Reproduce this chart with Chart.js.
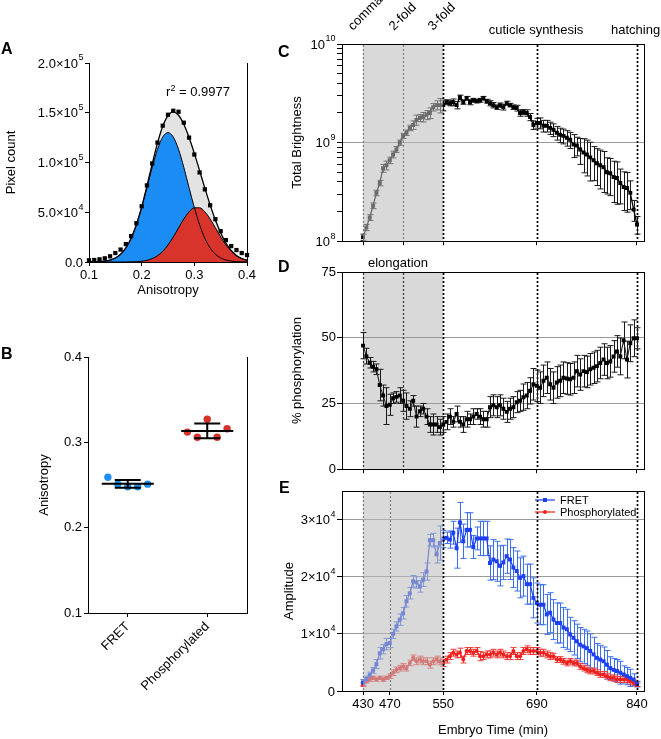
<!DOCTYPE html>
<html>
<head>
<meta charset="utf-8">
<script src="https://cdn.jsdelivr.net/npm/chart.js"></script>
<style>
  body { margin: 0; width: 661px; height: 739px; position: relative; overflow: hidden; background: #fff;
         font-family: 'Liberation Sans', Arial, Helvetica, sans-serif; color: #000; }
  canvas { position: absolute; }
  .lbl { position: absolute; font-size: 13px; line-height: 15px; white-space: nowrap; z-index: 2; }
  .mid { transform: translateX(-50%); }
  .rot { transform: rotate(-45deg); transform-origin: 0 100%; }
  .pan { position: absolute; font-size: 16px; line-height: 16px; font-weight: bold; z-index: 2; }
  sup { font-size: 9px; vertical-align: 5px; line-height: 0; }
</style>
</head>
<body>
<canvas id="chartA" width="260" height="272" style="left:0;top:30px"></canvas>
<canvas id="chartB" width="260" height="399" style="left:0;top:340px"></canvas>
<canvas id="chartC" width="391" height="250" style="left:270px;top:0"></canvas>
<canvas id="chartD" width="391" height="228" style="left:270px;top:250px"></canvas>
<canvas id="chartE" width="391" height="261" style="left:270px;top:478px"></canvas>

<div class="pan" style="left:1px;top:41px">A</div>
<div class="pan" style="left:1px;top:346px">B</div>
<div class="pan" style="left:278px;top:44px">C</div>
<div class="pan" style="left:278px;top:259px">D</div>
<div class="pan" style="left:279px;top:480px">E</div>

<div class="lbl mid" style="left:198px;top:84px">r<sup>2</sup> = 0.9977</div>
<div class="lbl rot" style="left:355px;top:18px">comma</div>
<div class="lbl rot" style="left:396px;top:18px">2-fold</div>
<div class="lbl rot" style="left:435px;top:18px">3-fold</div>
<div class="lbl mid" style="left:536px;top:22px">cuticle synthesis</div>
<div class="lbl" style="left:611px;top:22px">hatching</div>
<div class="lbl mid" style="left:398px;top:255px">elongation</div>

<script>
// ---- Panel A : anisotropy histogram and two-gaussian fit
const anisoBins = [0.10, 0.11, 0.12, 0.13, 0.14, 0.15, 0.16, 0.17, 0.18, 0.19,
                   0.20, 0.21, 0.22, 0.23, 0.24, 0.25, 0.26, 0.27, 0.28, 0.29,
                   0.30, 0.31, 0.32, 0.33, 0.34, 0.35, 0.36, 0.37, 0.38, 0.39, 0.40];
const pixelCounts = [1700, 2000, 2700, 3700, 5700, 9000, 12500, 18000, 26000, 39000,
                     56000, 77000, 99000, 120000, 137000, 148000, 152000, 151000, 140000, 125000,
                     108000, 90000, 73000, 57000, 43000, 31000, 22000, 16000, 12000, 9000, 7000];
const fitTotal = [50, 150, 370, 890, 1970, 4070, 7880, 14240, 23930, 37735,
                  55480, 76400, 98590, 119470, 136400, 147100, 150800, 147500, 138400, 125100,
                  109170, 91870, 74200, 57400, 42170, 29270, 19070, 11690, 6640, 3540, 1750];
const fitFret = [50, 150, 370, 890, 1970, 4070, 7870, 14200, 23800, 37400,
                 54700, 74700, 95200, 113200, 125600, 130000, 125600, 113200, 95200, 74700,
                 54700, 37400, 23800, 14200, 7870, 4070, 1970, 890, 370, 150, 50];
const fitPhos = [0, 0, 0, 0, 0, 0, 10, 40, 130, 335,
                 780, 1700, 3390, 6270, 10800, 17100, 25200, 34300, 43200, 50400,
                 54470, 54470, 50400, 43200, 34300, 25200, 17100, 10800, 6270, 3390, 1700];
const aTicksX = [0.1, 0.2, 0.3, 0.4];
const aTicksY = [0, 50000, 100000, 150000, 200000];
const aLabelsY = ['0.0', '5.0×10^4', '1.0×10^5', '1.5×10^5', '2.0×10^5'];

// ---- Panel B : anisotropy per construct
const bGroups = ['FRET', 'Phosphorylated'];
const bFret = [0.259, 0.251, 0.248, 0.248, 0.251];
const bPhos = [0.312, 0.306, 0.327, 0.306, 0.316];
const bTicksY = [0.1, 0.2, 0.3, 0.4];

// ---- Panels C-E : time course (min)
const times = [430, 435, 440, 445, 450, 455, 460, 465, 470, 475,
               480, 485, 490, 495, 500, 505, 510, 515, 520, 525,
               530, 535, 540, 545, 550, 555, 560, 565, 570, 575,
               580, 585, 590, 595, 600, 605, 610, 615, 620, 625,
               630, 635, 640, 645, 650, 655, 660, 665, 670, 675,
               680, 685, 690, 695, 700, 705, 710, 715, 720, 725,
               730, 735, 740, 745, 750, 755, 760, 765, 770, 775,
               780, 785, 790, 795, 800, 805, 810, 815, 820, 825,
               830, 835, 840];
// total brightness, x1e9
const brightness = [0.110, 0.138, 0.174, 0.229, 0.309, 0.389, 0.550, 0.589, 0.661, 0.759,
                    0.851, 1.00, 1.17, 1.26, 1.41, 1.51, 1.70, 1.78, 1.82, 1.91,
                    2.00, 2.29, 2.40, 2.40, 2.40, 2.57, 2.51, 2.57, 2.40, 2.88,
                    2.57, 2.82, 2.57, 2.69, 2.63, 2.69, 2.82, 2.63, 2.51, 2.40,
                    2.29, 2.40, 2.29, 2.51, 2.40, 2.29, 2.24, 2.00, 2.04, 2.00,
                    1.82, 1.51, 1.58, 1.58, 1.48, 1.48, 1.41, 1.35, 1.26, 1.20,
                    1.17, 1.12, 1.07, 0.955, 0.933, 0.851, 0.794, 0.759, 0.708, 0.661,
                    0.617, 0.589, 0.562, 0.501, 0.490, 0.447, 0.437, 0.389, 0.355, 0.347,
                    0.309, 0.209, 0.148];
const brightnessSd = [0.008, 0.010, 0.012, 0.015, 0.020, 0.025, 0.050, 0.060, 0.050, 0.060,
                      0.060, 0.060, 0.070, 0.080, 0.090, 0.150, 0.200, 0.150, 0.200, 0.200,
                      0.250, 0.200, 0.250, 0.400, 0.300, 0.150, 0.150, 0.200, 0.200, 0.150,
                      0.120, 0.120, 0.150, 0.120, 0.100, 0.120, 0.120, 0.120, 0.150, 0.150,
                      0.120, 0.120, 0.150, 0.120, 0.100, 0.120, 0.150, 0.150, 0.120, 0.150,
                      0.150, 0.150, 0.180, 0.200, 0.200, 0.200, 0.200, 0.200, 0.200, 0.200,
                      0.200, 0.200, 0.200, 0.250, 0.200, 0.250, 0.300, 0.300, 0.300, 0.250,
                      0.250, 0.250, 0.250, 0.200, 0.200, 0.200, 0.200, 0.150, 0.150, 0.150,
                      0.100, 0.050, 0.030];
const phosPercent = [47, 43, 40.5, 39, 38, 32, 28, 24, 24.5, 27,
                     27.5, 28, 26, 24, 23, 26, 20, 22, 23, 20,
                     17, 17, 17, 16, 17, 18, 20, 18, 21, 18,
                     17, 19, 19, 20, 21, 20, 19, 19, 23.6, 24.3,
                     23.6, 24.3, 23, 21.8, 23, 23.6, 25.5, 26, 27.4, 28,
                     29.8, 32.3, 31.7, 31, 33.6, 34.8, 32.3, 31, 33, 33.6,
                     34.8, 34.5, 34.2, 34.8, 37.3, 36, 37.3, 37, 38, 38.6,
                     39.2, 40.4, 41.7, 40.4, 41, 42.9, 44.8, 42.9, 49, 41.7,
                     47.9, 49.8, 49.8];
const phosPercentSd = [5, 3, 2, 2, 2, 6, 4, 7, 4, 2,
                       2, 3, 4, 5, 3, 2, 4, 2, 2, 3,
                       3, 4, 3, 3, 3, 3, 3, 2, 3, 2,
                       3, 3, 2, 3, 2, 3, 3, 3, 4, 4,
                       4, 4, 4, 4, 4, 4, 4, 4, 5, 5,
                       5, 6, 6, 6, 6, 6, 6, 6, 6, 6,
                       6, 6, 6, 6, 6, 6, 6, 6, 6, 6,
                       6, 6, 6, 6, 6, 6, 6, 7, 7, 7,
                       7, 7, 4];
// amplitudes, x1e4
const ampFret = [0.15, 0.21, 0.28, 0.36, 0.47, 0.66, 0.73, 0.82, 0.84, 1.00,
                 1.13, 1.25, 1.36, 1.57, 1.71, 1.92, 1.90, 1.83, 1.95, 2.09,
                 2.64, 2.64, 2.39, 2.59, 2.66, 2.68, 2.65, 2.77, 2.50, 2.95,
                 2.62, 2.82, 2.82, 2.52, 2.67, 2.67, 2.67, 2.67, 2.24, 2.30,
                 2.27, 2.19, 2.25, 2.36, 2.30, 2.16, 2.10, 1.98, 2.01, 1.87,
                 1.87, 1.63, 1.54, 1.51, 1.51, 1.34, 1.37, 1.25, 1.19, 1.19,
                 1.11, 1.08, 0.99, 0.93, 0.87, 0.81, 0.78, 0.75, 0.70, 0.64,
                 0.58, 0.55, 0.52, 0.46, 0.40, 0.37, 0.35, 0.32, 0.29, 0.26,
                 0.23, 0.20, 0.12];
const ampFretSd = [0.05, 0.05, 0.05, 0.05, 0.08, 0.10, 0.08, 0.10, 0.08, 0.08,
                   0.08, 0.10, 0.10, 0.10, 0.10, 0.10, 0.10, 0.10, 0.12, 0.15,
                   0.10, 0.12, 0.15, 0.30, 0.15, 0.10, 0.15, 0.20, 0.35, 0.35,
                   0.30, 0.30, 0.30, 0.20, 0.20, 0.30, 0.30, 0.30, 0.30, 0.35,
                   0.35, 0.35, 0.30, 0.30, 0.35, 0.35, 0.35, 0.35, 0.35, 0.35,
                   0.35, 0.35, 0.35, 0.35, 0.35, 0.35, 0.35, 0.35, 0.35, 0.35,
                   0.35, 0.35, 0.30, 0.30, 0.30, 0.30, 0.30, 0.30, 0.30, 0.30,
                   0.25, 0.25, 0.25, 0.25, 0.20, 0.20, 0.20, 0.20, 0.15, 0.15,
                   0.15, 0.10, 0.05];
const ampPhos = [0.11, 0.17, 0.20, 0.23, 0.20, 0.23, 0.20, 0.23, 0.26, 0.32,
                 0.37, 0.40, 0.43, 0.40, 0.49, 0.58, 0.52, 0.55, 0.52, 0.52,
                 0.46, 0.52, 0.55, 0.52, 0.49, 0.55, 0.61, 0.67, 0.64, 0.67,
                 0.55, 0.70, 0.70, 0.67, 0.70, 0.61, 0.61, 0.64, 0.64, 0.67,
                 0.64, 0.67, 0.64, 0.61, 0.61, 0.70, 0.61, 0.61, 0.70, 0.73,
                 0.70, 0.70, 0.70, 0.67, 0.67, 0.64, 0.61, 0.61, 0.55, 0.55,
                 0.52, 0.49, 0.52, 0.49, 0.49, 0.43, 0.40, 0.37, 0.35, 0.35,
                 0.32, 0.29, 0.29, 0.26, 0.23, 0.23, 0.20, 0.20, 0.20, 0.20,
                 0.17, 0.14, 0.11];
const ampPhosSd = [0.03, 0.03, 0.03, 0.03, 0.03, 0.03, 0.03, 0.03, 0.04, 0.05,
                   0.05, 0.05, 0.05, 0.05, 0.05, 0.05, 0.06, 0.06, 0.06, 0.06,
                   0.06, 0.06, 0.06, 0.06, 0.06, 0.06, 0.06, 0.06, 0.06, 0.08,
                   0.06, 0.06, 0.06, 0.06, 0.06, 0.08, 0.06, 0.06, 0.06, 0.06,
                   0.06, 0.06, 0.06, 0.06, 0.06, 0.06, 0.06, 0.06, 0.06, 0.06,
                   0.06, 0.06, 0.06, 0.06, 0.06, 0.06, 0.06, 0.05, 0.05, 0.05,
                   0.05, 0.05, 0.05, 0.05, 0.05, 0.05, 0.05, 0.05, 0.05, 0.05,
                   0.05, 0.05, 0.05, 0.05, 0.05, 0.05, 0.05, 0.05, 0.05, 0.05,
                   0.05, 0.05, 0.03];
const stageLines = [430, 490, 550, 690, 840];
const ampLines = [430, 470, 550, 690, 840];
const shadeRange = [430, 550];
const cTicksY = [1e8, 1e9, 1e10];
const cLabelsY = ['10^8', '10^9', '10^10'];
const dTicksY = [0, 25, 50, 75];
const eTicksY = [0, 10000, 20000, 30000];
const eLabelsY = ['0', '1×10^4', '2×10^4', '3×10^4'];

// ---- defaults
const fontFamily = "'Liberation Sans', Arial, Helvetica, sans-serif";
Chart.defaults.font.family = fontFamily;
Chart.defaults.font.size = 13;
Chart.defaults.color = '#000';
Chart.defaults.animation = false;
Chart.defaults.responsive = false;
Chart.defaults.devicePixelRatio = 1;
Chart.defaults.events = [];
Chart.defaults.plugins.legend.display = false;
Chart.defaults.plugins.tooltip.enabled = false;

const fretBlue = '#1c3ff2';
const phosRed = '#ee1f1c';

// ---- helpers
const toPoints = (xs, ys, k = 1) => xs.map((x, i) => ({x: x, y: ys[i] * k}));
const useTicks = (vals) => (axis) => { axis.ticks = vals.map(v => ({value: v})); };
const plainLabel = (s) => s.replace('^', '');

function valueAxis(o) {
    return {
        type: o.type || 'linear',
        min: o.min,
        max: o.max,
        afterBuildTicks: useTicks(o.ticks),
        afterFit: (axis) => { axis.width = o.width; },
        border: {color: '#000', width: 1},
        grid: {
            tickColor: '#000',
            tickLength: o.tickLength || 5,
            color: (ctx) => (o.gridAt || []).includes(ctx.tick && ctx.tick.value) ? '#9a9a9a' : 'rgba(0,0,0,0)'
        },
        // labels with exponents are painted by the supTicks plugin
        ticks: {autoSkip: false, padding: o.padding || 1, callback: o.label,
                color: o.sup ? 'rgba(0,0,0,0)' : '#000'},
        title: {display: true, text: o.title}
    };
}

function timeAxis(o) {
    return {
        type: 'linear',
        min: o.min,
        max: o.max,
        afterBuildTicks: useTicks(o.ticks),
        afterFit: (axis) => { axis.height = o.height; },
        border: {color: '#000', width: 1},
        grid: {drawOnChartArea: false, tickColor: '#000', tickLength: 4},
        ticks: {display: !!o.label, autoSkip: false, maxRotation: o.rotation || 0,
                minRotation: o.rotation || 0, padding: 2, callback: o.label},
        title: {display: !!o.title, text: o.title || '', padding: o.titlePad || {top: 4, bottom: 4}}
    };
}

// y tick labels of the form base^exp, drawn with a raised exponent
const supTicks = (values, labels) => ({
    id: 'supTicks',
    afterDraw(chart) {
        const {ctx} = chart;
        const axis = chart.scales.y;
        const xRight = axis.right - axis.options.grid.tickLength - axis.options.ticks.padding - 1;
        ctx.save();
        ctx.fillStyle = '#000';
        ctx.textBaseline = 'middle';
        values.forEach((v, i) => {
            const [base, exp] = labels[i].split('^');
            const y = axis.getPixelForValue(v);
            ctx.font = '9px ' + fontFamily;
            const ew = exp ? ctx.measureText(exp).width : 0;
            ctx.textAlign = 'left';
            if (exp) ctx.fillText(exp, xRight - ew + 0.5, y - 5);
            ctx.font = '13px ' + fontFamily;
            ctx.textAlign = 'right';
            ctx.fillText(base, xRight - ew, y + 1);
        });
        ctx.restore();
    }
});

// top / right box lines
const frame = (sides) => ({
    id: 'frame',
    afterDraw(chart) {
        const {ctx, chartArea: a} = chart;
        ctx.save();
        ctx.strokeStyle = '#000';
        ctx.lineWidth = 1;
        ctx.beginPath();
        if (sides.includes('top')) { ctx.moveTo(a.left, a.top + 0.5); ctx.lineTo(a.right, a.top + 0.5); }
        if (sides.includes('right')) { ctx.moveTo(a.right + 0.5, a.top); ctx.lineTo(a.right + 0.5, a.bottom); }
        ctx.stroke();
        ctx.restore();
    }
});

// vertical error bars from dataset.errors
const errorBars = {
    id: 'errorBars',
    beforeDatasetsDraw(chart) {
        const {ctx, scales: {x, y}} = chart;
        ctx.save();
        ctx.lineWidth = 1;
        chart.data.datasets.forEach((ds) => {
            if (!ds.errors) return;
            ctx.strokeStyle = ds.errorColor;
            ds.data.forEach((p, i) => {
                const e = ds.errors[i];
                const px = Math.round(x.getPixelForValue(p.x)) + 0.5;
                const yHi = y.getPixelForValue(p.y + e);
                const yLo = y.getPixelForValue(p.y - e);
                ctx.beginPath();
                ctx.moveTo(px, yHi); ctx.lineTo(px, yLo);
                ctx.moveTo(px - 3, yHi); ctx.lineTo(px + 3, yHi);
                ctx.moveTo(px - 3, yLo); ctx.lineTo(px + 3, yLo);
                ctx.stroke();
            });
        });
        ctx.restore();
    }
};

// grey developmental window and dotted stage markers
const phases = (lines, overlay) => {
    const drawLine = (chart, v) => {
        const {ctx, chartArea: a, scales: {x}} = chart;
        const inner = v < shadeRange[1];
        const px = Math.round(x.getPixelForValue(v)) + 0.5;
        ctx.save();
        ctx.strokeStyle = inner ? '#333' : '#000';
        ctx.lineWidth = inner ? 1.2 : 1.7;
        ctx.setLineDash([2, 2]);
        ctx.beginPath();
        ctx.moveTo(px, a.top + 1);
        ctx.lineTo(px, a.bottom);
        ctx.stroke();
        ctx.restore();
    };
    const shadeRect = (chart, color) => {
        const {ctx, chartArea: a, scales: {x}} = chart;
        const x0 = x.getPixelForValue(shadeRange[0]);
        const x1 = x.getPixelForValue(shadeRange[1]);
        ctx.save();
        ctx.fillStyle = color;
        ctx.fillRect(x0, a.top + 1, x1 - x0, a.bottom - a.top - 1);
        ctx.restore();
    };
    return {
        id: 'phases',
        beforeDraw(chart) {
            if (!overlay) shadeRect(chart, '#d9d9d9');
        },
        beforeDatasetsDraw(chart) {
            lines.filter(v => !overlay || v < shadeRange[1]).forEach(v => drawLine(chart, v));
        },
        afterDatasetsDraw(chart) {
            if (!overlay) return;
            shadeRect(chart, 'rgba(188,188,188,0.57)');
            lines.filter(v => v >= shadeRange[1]).forEach(v => drawLine(chart, v));
        }
    };
};

// ---- A
new Chart(document.getElementById('chartA'), {
    type: 'line',
    data: {
        datasets: [
            {data: toPoints(anisoBins, pixelCounts), showLine: false, pointStyle: 'rect', pointRadius: 3,
             pointBackgroundColor: '#000', pointBorderWidth: 0, clip: 6},
            {data: toPoints(anisoBins, fitPhos), borderColor: '#000', borderWidth: 1, backgroundColor: '#d8342b',
             fill: 'origin', pointRadius: 0, cubicInterpolationMode: 'monotone'},
            {data: toPoints(anisoBins, fitFret), borderColor: '#000', borderWidth: 1, backgroundColor: '#1b8cf3',
             fill: 'origin', pointRadius: 0, cubicInterpolationMode: 'monotone'},
            {data: toPoints(anisoBins, fitTotal), borderColor: '#000', borderWidth: 1.3, backgroundColor: '#e3e3e3',
             fill: 'origin', pointRadius: 0, cubicInterpolationMode: 'monotone'}
        ]
    },
    options: {
        layout: {padding: {left: 0, right: 13, top: 33, bottom: 0}},
        plugins: {filler: {propagate: false, drawTime: 'beforeDatasetsDraw'}},
        scales: {
            x: timeAxis({min: 0.1, max: 0.4, ticks: aTicksX, height: 40, title: 'Anisotropy',
                         label: (v) => v.toFixed(1)}),
            y: valueAxis({min: 0, max: 200000, ticks: aTicksY, width: 89, tickLength: 4, title: 'Pixel count',
                          sup: true, label: (v) => plainLabel(aLabelsY[aTicksY.indexOf(v)])})
        }
    },
    plugins: [frame(['right']), supTicks(aTicksY, aLabelsY)]
});

// ---- B
const spread = (i, n) => (i - (n - 1) / 2) * 0.125;
const meanSd = {
    id: 'meanSd',
    afterDatasetsDraw(chart) {
        const {ctx, scales: {x, y}} = chart;
        ctx.save();
        ctx.strokeStyle = '#000';
        ctx.lineWidth = 2;
        [bFret, bPhos].forEach((vals, g) => {
            const m = vals.reduce((s, v) => s + v, 0) / vals.length;
            const sd = Math.sqrt(vals.reduce((s, v) => s + (v - m) * (v - m), 0) / (vals.length - 1));
            const cx = x.getPixelForValue(g);
            const ym = y.getPixelForValue(m), yHi = y.getPixelForValue(m + sd), yLo = y.getPixelForValue(m - sd);
            ctx.beginPath();
            ctx.moveTo(cx - 26, ym); ctx.lineTo(cx + 26, ym);
            ctx.moveTo(cx, yHi); ctx.lineTo(cx, yLo);
            ctx.moveTo(cx - 13, yHi); ctx.lineTo(cx + 13, yHi);
            ctx.moveTo(cx - 13, yLo); ctx.lineTo(cx + 13, yLo);
            ctx.stroke();
        });
        ctx.restore();
    }
};

new Chart(document.getElementById('chartB'), {
    type: 'scatter',
    data: {
        datasets: [
            {data: bFret.map((v, i) => ({x: 0 + spread(i, bFret.length), y: v})),
             pointRadius: 3.7, pointBackgroundColor: '#1e8ff0', pointBorderWidth: 0},
            {data: bPhos.map((v, i) => ({x: 1 + spread(i, bPhos.length), y: v})),
             pointRadius: 3.7, pointBackgroundColor: '#d8302b', pointBorderWidth: 0}
        ]
    },
    options: {
        layout: {padding: {left: 33, right: 13, top: 17, bottom: 0}},
        scales: {
            x: timeAxis({min: -0.5, max: 1.5, ticks: [0, 1], height: 126, rotation: 45,
                         label: (v) => bGroups[v]}),
            y: valueAxis({min: 0.1, max: 0.4, ticks: bTicksY, width: 55, tickLength: 4, padding: 2,
                          title: 'Anisotropy', label: (v) => v.toFixed(1)})
        }
    },
    plugins: [meanSd, frame(['right'])]
});

// ---- C
new Chart(document.getElementById('chartC'), {
    type: 'line',
    data: {
        datasets: [{
            data: toPoints(times, brightness, 1e9),
            errors: brightnessSd.map(v => v * 1e9),
            errorColor: '#1a1a1a',
            borderColor: '#000', borderWidth: 1.3,
            pointStyle: 'rect', pointRadius: 2.8, pointBackgroundColor: '#000', pointBorderWidth: 0
        }]
    },
    options: {
        layout: {padding: {left: 16, right: 17, top: 44, bottom: 0}},
        scales: {
            x: timeAxis({min: 398.5, max: 850.5, ticks: stageLines, height: 4}),
            y: Object.assign(valueAxis({type: 'logarithmic', min: 1e8, max: 1e10, ticks: cTicksY, width: 56,
                                        gridAt: [1e9], title: 'Total Brightness', sup: true,
                                        label: (v) => cTicksY.includes(v) ? plainLabel(cLabelsY[cTicksY.indexOf(v)]) : ''}), {
                afterBuildTicks: (axis) => {
                    const vals = cTicksY.slice();
                    [1e8, 1e9].forEach(d => { for (let m = 2; m <= 9; m++) vals.push(m * d); });
                    axis.ticks = vals.sort((a, b) => a - b).map(v => ({value: v}));
                }
            })
        }
    },
    plugins: [errorBars, phases(stageLines, true), frame(['top', 'right']), supTicks(cTicksY, cLabelsY)]
});

// ---- D
new Chart(document.getElementById('chartD'), {
    type: 'line',
    data: {
        datasets: [{
            data: toPoints(times, phosPercent),
            errors: phosPercentSd,
            errorColor: '#1a1a1a',
            borderColor: '#222', borderWidth: 1.1,
            pointStyle: 'rect', pointRadius: 2.8, pointBackgroundColor: '#000', pointBorderWidth: 0
        }]
    },
    options: {
        layout: {padding: {left: 16, right: 17, top: 22, bottom: 0}},
        scales: {
            x: timeAxis({min: 398.5, max: 850.5, ticks: stageLines, height: 5}),
            y: valueAxis({min: 0, max: 75, ticks: dTicksY, width: 56, gridAt: [25, 50],
                          title: '% phosphorylation', label: (v) => String(v)})
        }
    },
    plugins: [phases(stageLines, false), errorBars, frame(['top', 'right'])]
});

// ---- E
const ampLegend = {
    id: 'ampLegend',
    afterDraw(chart) {
        const {ctx, chartArea: a} = chart;
        const rows = [['FRET', fretBlue, 'rect'], ['Phosphorylated', phosRed, 'circle']];
        ctx.save();
        rows.forEach((r, i) => {
            const y = a.top + 9 + i * 12;
            const x0 = a.right - 109;
            ctx.strokeStyle = r[1];
            ctx.fillStyle = r[1];
            ctx.lineWidth = 1.2;
            ctx.beginPath();
            ctx.moveTo(x0, y); ctx.lineTo(x0 + 20, y);
            ctx.stroke();
            ctx.beginPath();
            if (r[2] === 'rect') ctx.rect(x0 + 8, y - 2, 4, 4);
            else ctx.arc(x0 + 10, y, 2, 0, Math.PI * 2);
            ctx.fill();
            ctx.fillStyle = '#000';
            ctx.font = '11px ' + fontFamily;
            ctx.textBaseline = 'middle';
            ctx.fillText(r[0], x0 + 25, y + 0.5);
        });
        ctx.restore();
    }
};

new Chart(document.getElementById('chartE'), {
    type: 'line',
    data: {
        datasets: [
            {data: toPoints(times, ampFret, 1e4), errors: ampFretSd.map(v => v * 1e4), errorColor: '#3b6ef2',
             borderColor: fretBlue, borderWidth: 1.2, pointStyle: 'rect', pointRadius: 2.8,
             pointBackgroundColor: fretBlue, pointBorderWidth: 0},
            {data: toPoints(times, ampPhos, 1e4), errors: ampPhosSd.map(v => v * 1e4), errorColor: '#f03a36',
             borderColor: phosRed, borderWidth: 1.2, pointStyle: 'circle', pointRadius: 2,
             pointBackgroundColor: phosRed, pointBorderWidth: 0}
        ]
    },
    options: {
        layout: {padding: {left: 8, right: 17, top: 13, bottom: 0}},
        scales: {
            x: timeAxis({min: 398.5, max: 850.5, ticks: ampLines, height: 48, title: 'Embryo Time (min)',
                         titlePad: {top: 0, bottom: 1}, label: (v) => String(v)}),
            y: valueAxis({min: 0, max: 35000, ticks: eTicksY, width: 64, gridAt: [10000, 20000, 30000],
                          title: 'Amplitude', sup: true, label: (v) => plainLabel(eLabelsY[eTicksY.indexOf(v)])})
        }
    },
    plugins: [errorBars, phases(ampLines, true), frame(['top', 'right']), ampLegend, supTicks(eTicksY, eLabelsY)]
});
</script>
</body>
</html>
